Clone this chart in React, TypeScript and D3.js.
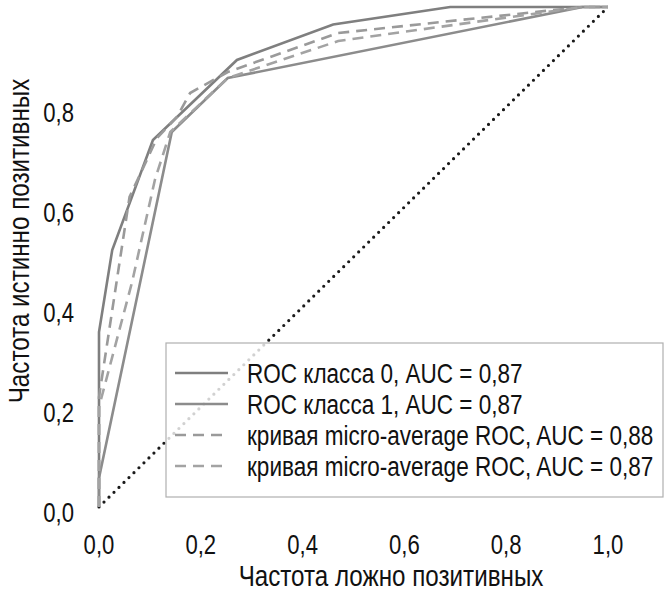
import React from "react";
import * as d3 from "d3";

const xTicks = [0, 0.2, 0.4, 0.6, 0.8, 1.0];
const yTicks = [0, 0.2, 0.4, 0.6, 0.8];

const seriesNames = [
  "ROC класса 0, AUC = 0,87",
  "ROC класса 1, AUC = 0,87",
  "кривая micro-average ROC, AUC = 0,88",
  "кривая micro-average ROC, AUC = 0,87",
];

const xTitle = "Частота ложно позитивных";
const yTitle = "Частота истинно позитивных";

const fprClass0 = [0, 0, 0.026, 0.106, 0.271, 0.46, 0.69, 1];
const tprClass0 = [0, 0.35, 0.514, 0.734, 0.894, 0.965, 1.0, 1];

const fprClass1 = [0, 0, 0.143, 0.253, 0.95, 1];
const tprClass1 = [0, 0.058, 0.75, 0.858, 1.0, 1];

const fprMicro = [0, 0, 0.03, 0.06, 0.114, 0.153, 0.179, 0.253, 0.47, 0.95, 1];
const tprMicro = [0, 0.22, 0.42, 0.62, 0.738, 0.78, 0.828, 0.87, 0.948, 1.0, 1];

const fprMacro = [0, 0, 0.065, 0.11, 0.14, 0.253, 0.47, 0.95, 1];
const tprMacro = [0, 0.2, 0.45, 0.655, 0.75, 0.858, 0.932, 1.0, 1];

const diagX = [0, 1];
const diagY = [0, 1];

const W = 667;
const H = 593;

const FONT = "'Liberation Sans', Arial, sans-serif";
const NARROW = 0.82;

function zip(xs: number[], ys: number[]): [number, number][] {
  return xs.map((x, i) => [x, ys[i]]);
}

export default function App() {
  const x = d3.scaleLinear().domain([0, 1]).range([99, 608]);
  const y = d3.scaleLinear().domain([0, 1]).range([507, 7]);
  const line = d3
    .line<[number, number]>()
    .x((d) => x(d[0]))
    .y((d) => y(d[1]));
  const fmt = (v: number) => d3.format(".1f")(v).replace(".", ",");

  const series = [
    { data: zip(fprClass0, tprClass0), color: "#7f7f7f", dash: undefined },
    { data: zip(fprClass1, tprClass1), color: "#8c8c8c", dash: undefined },
    { data: zip(fprMicro, tprMicro), color: "#9a9a9a", dash: "11 7" },
    { data: zip(fprMacro, tprMacro), color: "#a3a3a3", dash: "11 7" },
  ];

  const legendX = 166;
  const legendY = 343;
  const legendW = 497;
  const legendH = 154;
  const rowY = (i: number) => 373 + i * 31;

  return (
    <svg
      width={W}
      height={H}
      style={{ position: "absolute", left: 0, top: 0, background: "#fff" }}
      fontFamily={FONT}
    >
      <rect x={0} y={0} width={W} height={H} fill="#fff" />
      {/* diagonal */}
      <path
        d={line(zip(diagX, diagY)) || ""}
        fill="none"
        stroke="#1a1a1a"
        strokeWidth={3.2}
        strokeLinecap="round"
        strokeDasharray="0 7"
      />
      {series.map((s, i) => (
        <path
          key={i}
          d={line(s.data) || ""}
          fill="none"
          stroke={s.color}
          strokeWidth={2.6}
          strokeLinejoin="miter"
          strokeDasharray={s.dash}
        />
      ))}
      {/* y tick labels */}
      {yTicks.map((t) => (
        <text
          key={"y" + t}
          transform={`translate(74,${y(t) + 6}) scale(${NARROW},1)`}
          textAnchor="end"
          dominantBaseline="central"
          fontSize={27}
          fill="#111"
        >
          {fmt(t)}
        </text>
      ))}
      {/* x tick labels */}
      {xTicks.map((t) => (
        <text
          key={"x" + t}
          transform={`translate(${x(t)},${545}) scale(${NARROW},1)`}
          textAnchor="middle"
          dominantBaseline="central"
          fontSize={27}
          fill="#111"
        >
          {fmt(t)}
        </text>
      ))}
      {/* axis titles */}
      <text
        transform={`translate(391,${576}) scale(${NARROW},1)`}
        textAnchor="middle"
        dominantBaseline="central"
        fontSize={29.5}
        fill="#111"
      >
        {xTitle}
      </text>
      <text
        transform={`translate(19,241) rotate(-90) scale(${NARROW},1)`}
        textAnchor="middle"
        dominantBaseline="central"
        fontSize={29.5}
        fill="#111"
      >
        {yTitle}
      </text>
      {/* legend */}
      <rect
        x={legendX}
        y={legendY}
        width={legendW}
        height={legendH}
        fill="#fff"
        fillOpacity={0.8}
        stroke="#b0b0b0"
        strokeWidth={1.2}
      />
      {series.map((s, i) => (
        <g key={"l" + i}>
          <line
            x1={175}
            x2={228}
            y1={rowY(i)}
            y2={rowY(i)}
            stroke={s.color}
            strokeWidth={2.6}
            strokeDasharray={s.dash}
          />
          <text
            transform={`translate(247,${rowY(i)}) scale(${NARROW},1)`}
            dominantBaseline="central"
            fontSize={27.5}
            fill="#111"
          >
            {seriesNames[i]}
          </text>
        </g>
      ))}
    </svg>
  );
}
